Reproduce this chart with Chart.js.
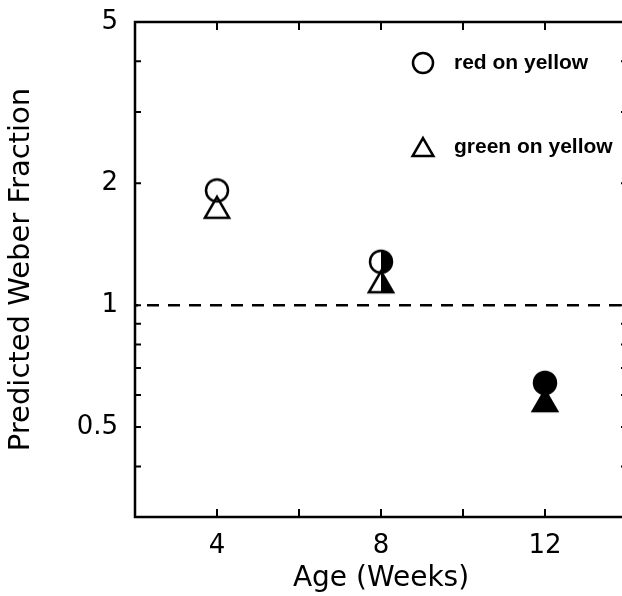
<!DOCTYPE html>
<html>
<head>
<meta charset="utf-8">
<script src="https://cdn.jsdelivr.net/npm/chart.js@4.4.1/dist/chart.umd.min.js"></script>
<style>
  html, body { margin: 0; padding: 0; background: #fff; overflow: hidden; }
  #wrap { width: 622px; height: 596px; overflow: hidden; }
  #weberChart { display: block; }
</style>
</head>
<body>
<div id="wrap"><canvas id="weberChart" width="645" height="596"></canvas></div>
<script>
const ages = [4, 8, 12];
const redOnYellow = [1.92, 1.28, 0.643];
const greenOnYellow = [1.71, 1.12, 0.57];
// how each age's marker is filled: open, half, solid
const markerFill = ['none', 'half', 'full'];
const referenceLevel = 1;
const xRange = [2, 14];
const yRange = [0.3, 5];
const xTickValues = [2, 4, 6, 8, 10, 12, 14];
const xTickLabels = ['', '4', '', '8', '', '12', ''];
const yTickValues = [0.4, 0.5, 0.6, 0.7, 0.8, 0.9, 1, 2, 3, 4, 5];
const yTickLabels = ['', '0.5', '', '', '', '', '1', '2', '', '', '5'];
const legendLabels = ['red on yellow', 'green on yellow'];

const FONT = "'DejaVu Sans', sans-serif";

// Build a marker image; triangle uses the same geometry as Chart.js (apex r above centre)
function makeMarker(shape, fill, r) {
  const lw = 2.5;
  let size = Math.ceil(2 * r + 4 * lw);
  if (size % 2) size++;
  const c = document.createElement('canvas');
  c.width = size; c.height = size;
  const g = c.getContext('2d');
  const cx = size / 2, cy = size / 2;
  g.beginPath();
  if (shape === 'circle') {
    g.arc(cx, cy, r, 0, Math.PI * 2);
  } else {
    const h = r * Math.sin(Math.PI / 3);
    g.moveTo(cx, cy - r);
    g.lineTo(cx + h, cy + r / 2);
    g.lineTo(cx - h, cy + r / 2);
    g.closePath();
  }
  if (fill === 'full') {
    g.fillStyle = '#000';
    g.fill();
  } else if (fill === 'half') {
    g.save();
    g.clip();
    g.fillStyle = '#000';
    g.fillRect(cx, 0, size, size);
    g.restore();
  }
  g.lineWidth = lw;
  g.strokeStyle = '#000';
  g.stroke();
  return c;
}

const circleMarkers = markerFill.map(f => makeMarker('circle', f, 11));
const triangleMarkers = markerFill.map(f => makeMarker('triangle', f, 14));

// Box with inward ticks on all four sides
const framePlugin = {
  id: 'frame',
  afterDatasetsDraw(chart) {
    const { ctx, chartArea: a, scales } = chart;
    ctx.save();
    ctx.strokeStyle = '#000';
    ctx.lineWidth = 2.5;
    ctx.strokeRect(a.left, a.top, a.right - a.left, a.bottom - a.top);
    ctx.lineWidth = 2;
    ctx.beginPath();
    xTickValues.slice(1, -1).forEach(v => {
      const px = scales.x.getPixelForValue(v);
      ctx.moveTo(px, a.bottom); ctx.lineTo(px, a.bottom - 8);
      ctx.moveTo(px, a.top); ctx.lineTo(px, a.top + 8);
    });
    yTickValues.forEach(v => {
      const py = scales.y.getPixelForValue(v);
      ctx.moveTo(a.left, py); ctx.lineTo(a.left + 6, py);
      ctx.moveTo(a.right, py); ctx.lineTo(a.right - 6, py);
    });
    ctx.stroke();
    ctx.restore();
  }
};

const legendPlugin = {
  id: 'boxLegend',
  afterDraw(chart) {
    const { ctx, chartArea: a } = chart;
    const mx = a.left + 288, tx = a.left + 319;
    const rows = [a.top + 41, a.top + 125];
    const icons = [makeMarker('circle', 'none', 10), makeMarker('triangle', 'none', 12)];
    ctx.save();
    ctx.fillStyle = '#000';
    ctx.font = "bold 21px 'Liberation Sans', sans-serif";
    ctx.textBaseline = 'middle';
    rows.forEach((y, i) => {
      const img = icons[i];
      const shift = i === 1 ? 3 : 0;
      ctx.drawImage(img, mx - img.width / 2, y - img.height / 2 + shift);
      ctx.fillText(legendLabels[i], tx, y);
    });
    ctx.restore();
  }
};

const ctx = document.getElementById('weberChart').getContext('2d');

new Chart(ctx, {
  type: 'scatter',
  data: {
    datasets: [
      {
        label: legendLabels[0],
        data: ages.map((a, i) => ({ x: a, y: redOnYellow[i] })),
        pointStyle: circleMarkers,
        pointRadius: 12
      },
      {
        label: legendLabels[1],
        data: ages.map((a, i) => ({ x: a, y: greenOnYellow[i] })),
        pointStyle: triangleMarkers,
        pointRadius: 14
      },
      {
        type: 'line',
        data: [{ x: xRange[0], y: referenceLevel }, { x: xRange[1], y: referenceLevel }],
        borderColor: '#000',
        borderWidth: 2.5,
        borderDash: [12, 9],
        borderDashOffset: -12,
        pointRadius: 0,
        fill: false
      }
    ]
  },
  options: {
    responsive: false,
    animation: false,
    layout: { padding: { top: 22, right: 18, left: 0, bottom: 0 } },
    plugins: { legend: { display: false }, tooltip: { enabled: false } },
    scales: {
      x: {
        type: 'linear',
        min: xRange[0],
        max: xRange[1],
        afterBuildTicks: s => { s.ticks = xTickValues.map(v => ({ value: v })); },
        afterFit: s => { s.height = 79; s.paddingLeft = 0; s.paddingRight = 0; },
        grid: { display: false, drawTicks: false },
        border: { display: false },
        ticks: {
          autoSkip: false,
          maxRotation: 0,
          padding: 14,
          color: '#000',
          font: { family: FONT, size: 26 },
          callback: v => xTickLabels[xTickValues.indexOf(v)]
        },
        title: {
          display: true,
          text: 'Age (Weeks)',
          color: '#000',
          font: { family: FONT, size: 28 },
          padding: { top: 0, bottom: 0 }
        }
      },
      y: {
        type: 'logarithmic',
        min: yRange[0],
        max: yRange[1],
        afterBuildTicks: s => { s.ticks = yTickValues.map(v => ({ value: v })); },
        afterFit: s => { s.width = 135; s.paddingTop = 0; s.paddingBottom = 0; },
        grid: { display: false, drawTicks: false },
        border: { display: false },
        ticks: {
          autoSkip: false,
          padding: 17,
          color: '#000',
          font: { family: FONT, size: 26 },
          callback: v => yTickLabels[yTickValues.indexOf(v)]
        },
        title: {
          display: true,
          text: 'Predicted Weber Fraction',
          color: '#000',
          font: { family: FONT, size: 29 },
          padding: { top: 4, bottom: 0 }
        }
      }
    }
  },
  plugins: [framePlugin, legendPlugin]
});
</script>
</body>
</html>
